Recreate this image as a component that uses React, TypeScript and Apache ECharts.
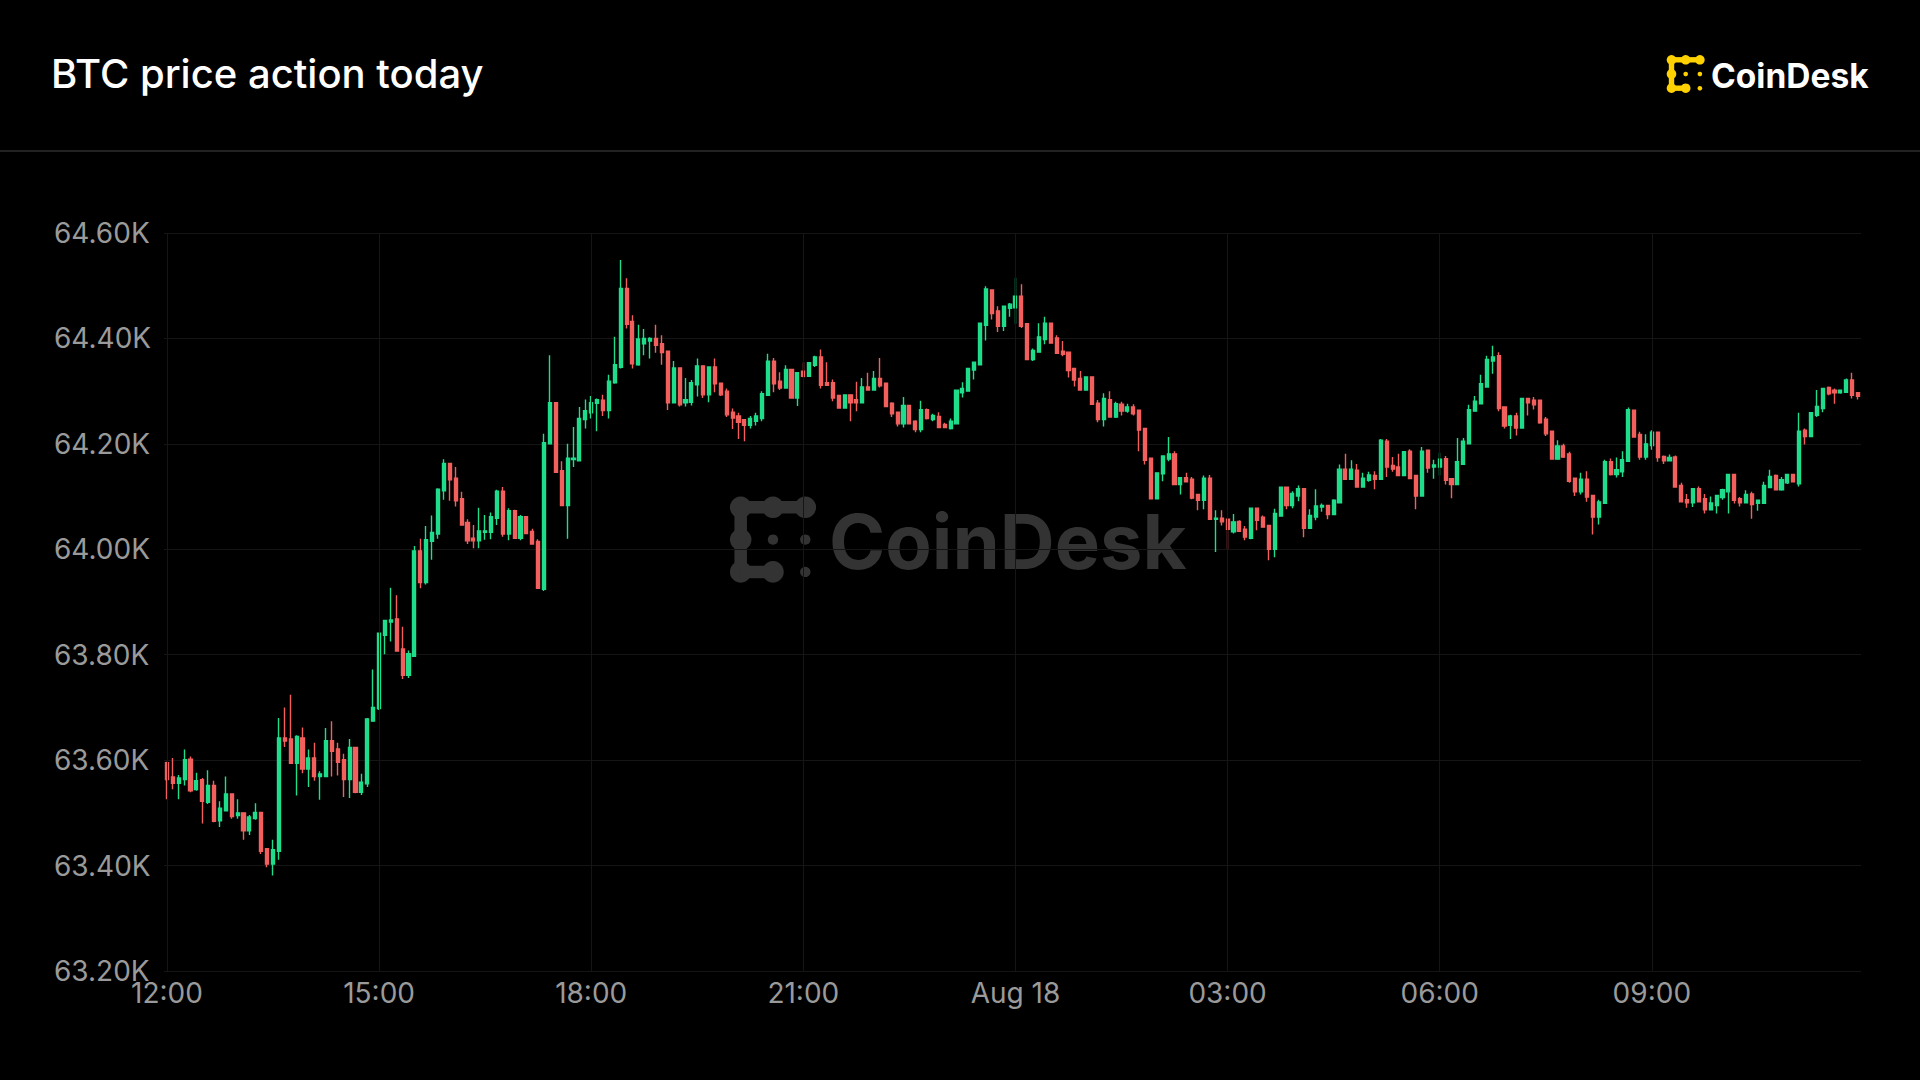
import React, { useEffect, useRef } from "react";
import * as echarts from "echarts";

// ---- data ----
const startMinutes = 12 * 60; // first candle at 12:00
const stepMinutes = 5;
const candleCount = 288;
const categories: string[] = [];
for (let i = 0; i < candleCount; i++) {
  const m = startMinutes + i * stepMinutes;
  const h = Math.floor(m / 60) % 24;
  const mm = m % 60;
  categories.push(String(h).padStart(2, "0") + ":" + String(mm).padStart(2, "0"));
}

const tickLabels = ["12:00", "15:00", "18:00", "21:00", "Aug 18", "03:00", "06:00", "09:00"];
const tickEvery = 36;

const yMin = 63200;
const yMax = 64600;
const yStep = 200;

// [open, close, low, high]
const candles: number[][] = [
  [63595, 63563, 63526, 63597], [63568, 63556, 63545, 63604], [63556, 63566, 63526, 63572], [63563, 63601, 63552, 63620],
  [63602, 63542, 63539, 63607], [63544, 63561, 63542, 63576], [63563, 63522, 63480, 63566], [63520, 63552, 63517, 63581],
  [63552, 63484, 63482, 63561], [63485, 63509, 63473, 63522], [63504, 63536, 63503, 63569], [63536, 63493, 63489, 63537],
  [63495, 63500, 63489, 63526], [63500, 63466, 63449, 63500], [63466, 63492, 63458, 63496], [63489, 63501, 63487, 63518],
  [63501, 63427, 63422, 63501], [63432, 63403, 63397, 63432], [63403, 63430, 63381, 63449], [63427, 63642, 63411, 63680],
  [63642, 63636, 63625, 63700], [63640, 63594, 63594, 63724], [63594, 63645, 63533, 63647], [63642, 63583, 63575, 63662],
  [63583, 63604, 63549, 63620], [63604, 63569, 63561, 63633], [63569, 63574, 63525, 63579], [63569, 63637, 63569, 63661],
  [63637, 63617, 63569, 63674], [63621, 63596, 63571, 63633], [63601, 63563, 63530, 63612], [63563, 63624, 63528, 63640],
  [63624, 63539, 63537, 63624], [63539, 63558, 63534, 63574], [63555, 63678, 63549, 63680], [63674, 63700, 63674, 63772],
  [63698, 63841, 63695, 63841], [63837, 63865, 63801, 63865], [63862, 63866, 63825, 63927], [63868, 63807, 63807, 63913],
  [63811, 63761, 63754, 63853], [63761, 63802, 63756, 63808], [63797, 63997, 63797, 64006], [63997, 63937, 63926, 64020],
  [63937, 64018, 63933, 64044], [64015, 64032, 63980, 64064], [64029, 64114, 64020, 64116], [64111, 64163, 64094, 64171],
  [64163, 64132, 64092, 64163], [64135, 64092, 64081, 64156], [64096, 64046, 64046, 64109], [64051, 64016, 64010, 64057],
  [64021, 64016, 64002, 64046], [64016, 64035, 64002, 64079], [64032, 64035, 64018, 64065], [64032, 64062, 64019, 64070],
  [64059, 64110, 64046, 64113], [64110, 64029, 64024, 64118], [64029, 64073, 64017, 64078], [64073, 64021, 64020, 64075],
  [64021, 64062, 64017, 64065], [64062, 64030, 64029, 64062], [64034, 64010, 64010, 64039], [64015, 63926, 63926, 64019],
  [63924, 64202, 63921, 64219], [64200, 64278, 64200, 64368], [64278, 64146, 64146, 64278], [64149, 64083, 64083, 64167],
  [64083, 64173, 64020, 64200], [64170, 64173, 64156, 64232], [64168, 64248, 64167, 64270], [64246, 64263, 64229, 64284],
  [64259, 64278, 64248, 64291], [64277, 64284, 64224, 64286], [64283, 64263, 64253, 64293], [64263, 64319, 64248, 64331],
  [64316, 64350, 64314, 64403], [64345, 64495, 64343, 64549], [64495, 64427, 64419, 64514], [64432, 64352, 64343, 64444],
  [64350, 64399, 64348, 64426], [64390, 64400, 64368, 64418], [64395, 64400, 64362, 64402], [64400, 64387, 64373, 64426],
  [64390, 64373, 64350, 64406], [64376, 64278, 64264, 64376], [64278, 64344, 64278, 64357], [64344, 64274, 64271, 64344],
  [64278, 64284, 64271, 64325], [64279, 64316, 64273, 64321], [64312, 64348, 64290, 64362], [64348, 64293, 64287, 64348],
  [64293, 64346, 64279, 64346], [64346, 64314, 64298, 64362], [64315, 64293, 64291, 64315], [64300, 64255, 64251, 64305],
  [64260, 64249, 64228, 64267], [64253, 64241, 64209, 64259], [64246, 64235, 64205, 64246], [64235, 64248, 64229, 64253],
  [64243, 64253, 64235, 64259], [64248, 64295, 64243, 64300], [64292, 64357, 64292, 64371], [64357, 64314, 64298, 64363],
  [64319, 64306, 64302, 64336], [64306, 64341, 64306, 64349], [64341, 64287, 64287, 64341], [64287, 64335, 64272, 64336],
  [64338, 64328, 64325, 64355], [64328, 64354, 64328, 64355], [64349, 64365, 64346, 64367], [64365, 64311, 64305, 64379],
  [64316, 64311, 64311, 64355], [64316, 64287, 64281, 64322], [64292, 64268, 64268, 64292], [64268, 64293, 64268, 64293],
  [64293, 64278, 64243, 64293], [64284, 64278, 64262, 64318], [64278, 64308, 64278, 64325], [64308, 64302, 64302, 64335],
  [64302, 64324, 64302, 64338], [64324, 64310, 64307, 64363], [64315, 64271, 64270, 64315], [64277, 64257, 64251, 64279],
  [64260, 64238, 64233, 64260], [64238, 64273, 64231, 64289], [64273, 64238, 64238, 64273], [64243, 64227, 64222, 64245],
  [64227, 64265, 64222, 64282], [64265, 64248, 64246, 64267], [64246, 64254, 64243, 64257], [64252, 64231, 64231, 64260],
  [64237, 64231, 64231, 64240], [64229, 64243, 64227, 64248], [64238, 64302, 64238, 64302], [64297, 64305, 64288, 64317],
  [64300, 64343, 64300, 64343], [64340, 64355, 64322, 64355], [64350, 64429, 64350, 64429], [64425, 64494, 64396, 64499],
  [64492, 64447, 64436, 64492], [64452, 64423, 64412, 64461], [64423, 64461, 64414, 64461], [64457, 64465, 64441, 64467],
  [64458, 64480, 64428, 64515], [64480, 64423, 64420, 64503], [64428, 64360, 64360, 64428], [64360, 64377, 64357, 64381],
  [64374, 64403, 64374, 64429], [64398, 64429, 64389, 64441], [64429, 64391, 64391, 64429], [64401, 64372, 64372, 64406],
  [64376, 64370, 64366, 64395], [64374, 64339, 64326, 64374], [64343, 64321, 64309, 64343], [64324, 64302, 64302, 64338],
  [64302, 64327, 64302, 64327], [64327, 64275, 64275, 64327], [64277, 64246, 64241, 64283], [64246, 64286, 64233, 64296],
  [64284, 64251, 64251, 64300], [64251, 64276, 64249, 64280], [64275, 64262, 64254, 64280], [64262, 64270, 64259, 64276],
  [64270, 64257, 64254, 64275], [64264, 64226, 64186, 64264], [64229, 64169, 64161, 64229], [64173, 64096, 64096, 64173],
  [64096, 64145, 64096, 64145], [64143, 64177, 64129, 64177], [64171, 64181, 64167, 64213], [64181, 64123, 64123, 64186],
  [64123, 64136, 64104, 64136], [64136, 64128, 64128, 64145], [64133, 64097, 64095, 64137], [64104, 64093, 64074, 64104],
  [64093, 64135, 64076, 64140], [64135, 64057, 64057, 64141], [64057, 64059, 63995, 64074], [64059, 64052, 64045, 64074],
  [64057, 64038, 64000, 64057], [64033, 64052, 64030, 64067], [64053, 64034, 64034, 64055], [64038, 64023, 64017, 64044],
  [64021, 64078, 64019, 64078], [64078, 64055, 64036, 64078], [64061, 64042, 64042, 64064], [64045, 64000, 63979, 64045],
  [64000, 64068, 63985, 64077], [64063, 64118, 64063, 64118], [64118, 64083, 64076, 64118], [64083, 64106, 64078, 64110],
  [64101, 64115, 64091, 64121], [64115, 64040, 64023, 64115], [64040, 64064, 64040, 64076], [64061, 64082, 64055, 64114],
  [64080, 64083, 64071, 64087], [64083, 64066, 64057, 64083], [64066, 64093, 64066, 64095], [64088, 64152, 64088, 64161],
  [64152, 64133, 64133, 64181], [64133, 64152, 64133, 64169], [64150, 64118, 64118, 64162], [64118, 64135, 64118, 64145],
  [64131, 64141, 64128, 64147], [64140, 64133, 64114, 64148], [64133, 64207, 64133, 64209], [64205, 64156, 64137, 64209],
  [64159, 64152, 64147, 64175], [64156, 64140, 64140, 64181], [64140, 64185, 64140, 64185], [64186, 64134, 64134, 64190],
  [64140, 64101, 64076, 64140], [64101, 64186, 64101, 64194], [64188, 64154, 64145, 64188], [64156, 64160, 64134, 64170],
  [64156, 64171, 64140, 64183], [64172, 64131, 64123, 64177], [64134, 64123, 64097, 64135], [64123, 64166, 64123, 64211],
  [64161, 64205, 64161, 64211], [64200, 64265, 64200, 64274], [64262, 64281, 64262, 64291], [64276, 64314, 64276, 64331],
  [64308, 64360, 64308, 64367], [64357, 64365, 64333, 64386], [64367, 64267, 64262, 64374], [64270, 64234, 64229, 64270],
  [64235, 64253, 64209, 64255], [64253, 64230, 64216, 64259], [64230, 64286, 64230, 64286], [64286, 64278, 64254, 64286],
  [64283, 64274, 64265, 64289], [64283, 64240, 64238, 64283], [64247, 64219, 64215, 64251], [64224, 64171, 64171, 64224],
  [64171, 64196, 64171, 64207], [64196, 64175, 64173, 64200], [64181, 64129, 64126, 64185], [64135, 64109, 64101, 64135],
  [64109, 64133, 64104, 64145], [64133, 64099, 64090, 64148], [64102, 64061, 64028, 64102], [64061, 64090, 64047, 64094],
  [64087, 64166, 64087, 64170], [64166, 64142, 64140, 64172], [64142, 64151, 64136, 64174], [64147, 64170, 64137, 64186],
  [64167, 64265, 64167, 64269], [64264, 64213, 64213, 64264], [64218, 64175, 64170, 64223], [64175, 64200, 64170, 64218],
  [64197, 64222, 64189, 64226], [64222, 64174, 64166, 64222], [64176, 64168, 64162, 64178], [64168, 64174, 64168, 64180],
  [64175, 64118, 64118, 64178], [64121, 64090, 64090, 64126], [64094, 64088, 64079, 64105], [64088, 64115, 64080, 64115],
  [64115, 64090, 64090, 64119], [64096, 64075, 64068, 64105], [64075, 64088, 64075, 64100], [64083, 64102, 64068, 64102],
  [64098, 64113, 64094, 64115], [64109, 64142, 64068, 64142], [64142, 64093, 64087, 64142], [64096, 64088, 64081, 64099],
  [64088, 64104, 64088, 64112], [64105, 64085, 64058, 64109], [64087, 64093, 64073, 64094], [64087, 64121, 64087, 64128],
  [64117, 64138, 64117, 64151], [64140, 64113, 64113, 64142], [64113, 64132, 64111, 64137], [64126, 64142, 64124, 64143],
  [64142, 64128, 64128, 64142], [64124, 64224, 64119, 64259], [64226, 64214, 64199, 64229], [64214, 64259, 64214, 64260],
  [64254, 64271, 64251, 64302], [64267, 64305, 64260, 64305], [64307, 64295, 64292, 64309], [64302, 64297, 64276, 64305],
  [64297, 64302, 64295, 64302], [64298, 64321, 64298, 64324], [64321, 64292, 64286, 64335], [64297, 64290, 64284, 64297],
];

// ---- styles ----
const UP = "#1FDD8B";
const DOWN = "#F2605E";
const GRID_LINE = "#151515";
const AXIS_TEXT = "#9a9a9a";
const FONT = "Inter, 'Noto Sans', sans-serif";

function logoShapes(x0: number, y0: number, step: number, rBig: number, rSmall: number, neck: number, color: string) {
  const c = (i: number, j: number) => [x0 + i * step, y0 + j * step];
  const big = [[0, 0], [1, 0], [2, 0], [0, 1], [0, 2], [1, 2]];
  const small = [[1, 1], [2, 1], [2, 2]];
  const links = [[[0, 0], [1, 0]], [[1, 0], [2, 0]], [[0, 0], [0, 1]], [[0, 1], [0, 2]], [[0, 2], [1, 2]]];
  const els: any[] = [];
  big.forEach(([i, j]) => {
    const [cx, cy] = c(i, j);
    els.push({ type: "circle", shape: { cx, cy, r: rBig }, style: { fill: color } });
  });
  links.forEach(([a, b]) => {
    const [ax, ay] = c(a[0], a[1]);
    const [bx, by] = c(b[0], b[1]);
    if (ay === by) {
      els.push({ type: "rect", shape: { x: ax, y: ay - neck / 2, width: bx - ax, height: neck }, style: { fill: color } });
    } else {
      els.push({ type: "rect", shape: { x: ax - neck / 2, y: ay, width: neck, height: by - ay }, style: { fill: color } });
    }
  });
  small.forEach(([i, j]) => {
    const [cx, cy] = c(i, j);
    els.push({ type: "circle", shape: { cx, cy, r: rSmall }, style: { fill: color } });
  });
  return els;
}

export default function App() {
  const ref = useRef<HTMLDivElement>(null);

  useEffect(() => {
    if (!ref.current) return;
    const chart = echarts.init(ref.current, undefined, { renderer: "svg" });

    const tickIdx: number[] = [];
    for (let i = 0; i < categories.length; i += tickEvery) tickIdx.push(i);

    const option: any = {
      animation: false,
      backgroundColor: "#000000",
      graphic: [
        {
          type: "text",
          x: 51,
          y: 73,
          style: {
            text: "BTC price action today",
            fill: "#ffffff",
            font: `500 40px ${FONT}`,
            textAlign: "left",
            textVerticalAlign: "middle",
          },
        },
        {
          type: "line",
          shape: { x1: 0, y1: 151, x2: 1920, y2: 151 },
          style: { stroke: "#222222", lineWidth: 2 },
        },
        {
          type: "group",
          children: logoShapes(1671.5, 59.8, 14.2, 4.8, 2.3, 5.4, "#FFD100"),
        },
        {
          type: "text",
          x: 1711,
          y: 75.5,
          style: {
            text: "CoinDesk",
            fill: "#ffffff",
            font: `700 33.5px ${FONT}`,
            textAlign: "left",
            textVerticalAlign: "middle",
          },
        },
        {
          type: "group",
          children: logoShapes(740.7, 507.3, 32.3, 10.8, 5.2, 12.5, "#333333"),
        },
        {
          type: "text",
          x: 829,
          y: 540.5,
          style: {
            text: "CoinDesk",
            fill: "#333333",
            font: `700 76px ${FONT}`,
            textAlign: "left",
            textVerticalAlign: "middle",
          },
        },
      ],
      grid: { left: 164, top: 233, width: 1697, height: 738 },
      xAxis: {
        type: "category",
        data: categories,
        boundaryGap: true,
        axisLine: { show: false },
        axisTick: { show: false },
        splitLine: { show: false },
        axisLabel: {
          interval: tickEvery - 1,
          color: AXIS_TEXT,
          fontSize: 28,
          fontFamily: FONT,
          margin: 8,
          formatter: (_v: string, idx: number) =>
            idx % tickEvery === 0 ? tickLabels[idx / tickEvery] ?? "" : "",
        },
      },
      yAxis: {
        type: "value",
        min: yMin,
        max: yMax,
        interval: yStep,
        axisLine: { show: false },
        axisTick: { show: false },
        splitLine: { show: true, lineStyle: { color: GRID_LINE, width: 1 } },
        axisLabel: {
          color: AXIS_TEXT,
          fontSize: 28,
          fontFamily: FONT,
          align: "left",
          margin: 110,
          formatter: (v: number) => (v / 1000).toFixed(2) + "K",
        },
      },
      series: [
        {
          type: "candlestick",
          data: candles,
          barWidth: 3.6,
          itemStyle: {
            color: UP,
            color0: DOWN,
            borderColor: UP,
            borderColor0: DOWN,
            borderWidth: 1.4,
          },
          markLine: {
            silent: true,
            symbol: ["none", "none"],
            label: { show: false },
            lineStyle: { color: GRID_LINE, width: 1, type: "solid" },
            emphasis: { disabled: true },
            data: tickIdx.map((i) => ({ xAxis: categories[i] })),
          },
        },
      ],
    };

    chart.setOption(option);
    return () => chart.dispose();
  }, []);

  return (
    <div
      ref={ref}
      style={{ position: "fixed", left: 0, top: 0, width: 1920, height: 1080, background: "#000" }}
    />
  );
}
